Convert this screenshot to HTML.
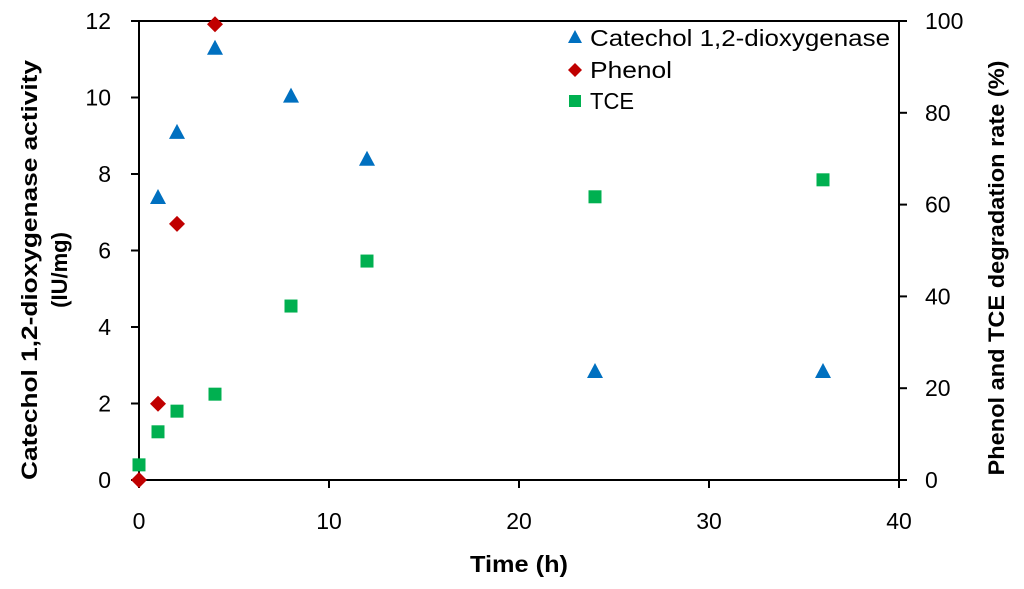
<!DOCTYPE html>
<html><head><meta charset="utf-8"><style>
body{margin:0;background:#fff;}
svg{display:block;font-family:"Liberation Sans",Calibri,sans-serif;}
</style></head><body>
<svg id="chart" width="1024" height="589" viewBox="0 0 1024 589" xmlns="http://www.w3.org/2000/svg">
<g id="axes"></g>
<g id="marks"></g>
<text x="519" y="572" text-anchor="middle" font-size="23" font-weight="bold" textLength="98" lengthAdjust="spacingAndGlyphs">Time (h)</text>
<text transform="translate(37,270) rotate(-90)" text-anchor="middle" font-size="22" font-weight="bold"><tspan x="0" dy="0" textLength="420" lengthAdjust="spacingAndGlyphs">Catechol 1,2-dioxygenase activity</tspan><tspan x="0" dy="30">(IU/mg)</tspan></text>
<text transform="translate(1004,268) rotate(-90)" text-anchor="middle" font-size="22" font-weight="bold" textLength="415" lengthAdjust="spacingAndGlyphs">Phenol and TCE degradation rate (%)</text>
<g font-size="23">
 <polygon points="575,30 582,43 568,43" fill="#0070c0"/>
 <text x="590" y="46" textLength="300" lengthAdjust="spacingAndGlyphs">Catechol 1,2-dioxygenase</text>
 <polygon points="575,63 582,70 575,77 568,70" fill="#c00000"/>
 <text x="590" y="78" textLength="82" lengthAdjust="spacingAndGlyphs">Phenol</text>
 <rect x="569" y="95" width="12" height="12" fill="#00b050"/>
 <text x="590" y="109" textLength="44" lengthAdjust="spacingAndGlyphs">TCE</text>
</g>
</svg>
<script>
const catTime=[1,2,4,8,12,24,36];
const catActivity=[7.4,9.1,11.3,10.05,8.4,2.85,2.85];
const phenolTime=[0,1,2,4];
const phenolRate=[0,16.6,55.8,99.3];
const tceTime=[0,1,2,4,8,12,24,36];
const tceRate=[3.3,10.5,15,18.7,37.9,47.7,61.7,65.4];
const xTicks=[0,10,20,30,40];
const yLeftTicks=[0,2,4,6,8,10,12];
const yRightTicks=[0,20,40,60,80,100];

const L=139,R=899,T=21,B=480;
const xs=v=>L+(v/40)*(R-L);
const yl=v=>B-(v/12)*(B-T);
const yr=v=>B-(v/100)*(B-T);
const NS="http://www.w3.org/2000/svg";
const axes=document.getElementById('axes'),marks=document.getElementById('marks');
function mk(tag,attrs,parent){const e=document.createElementNS(NS,tag);for(const k in attrs)e.setAttribute(k,attrs[k]);parent.appendChild(e);return e;}

let e;
e=mk('line',{x1:L-8,y1:T,x2:R+8,y2:T,stroke:'#000','stroke-width':2},axes);


e=mk('line',{x1:L,y1:T,x2:L,y2:B,stroke:'#000','stroke-width':2},axes);


e=mk('line',{x1:R,y1:T,x2:R,y2:B,stroke:'#000','stroke-width':2},axes);


e=mk('line',{x1:L,y1:B,x2:R,y2:B,stroke:'#000','stroke-width':2},axes);



xTicks.forEach(v=>{
 e=mk('line',{x1:xs(v),y1:B,x2:xs(v),y2:B+8,stroke:'#000','stroke-width':2},axes);
 
 
 e=mk('text',{x:xs(v),y:B+49,'text-anchor':'middle','font-size':23},axes);
 e.textContent=v;
 
 
});
yLeftTicks.forEach(v=>{
 e=mk('line',{x1:L-8,y1:yl(v),x2:L,y2:yl(v),stroke:'#000','stroke-width':2},axes);
 
 
 e=mk('text',{x:L-28,y:yl(v)+8,'text-anchor':'end','font-size':23},axes);
 e.textContent=v;
 
 
});
yRightTicks.forEach(v=>{
 e=mk('line',{x1:R,y1:yr(v),x2:R+8,y2:yr(v),stroke:'#000','stroke-width':2},axes);
 
 
 e=mk('text',{x:R+26,y:yr(v)+8,'text-anchor':'start','font-size':23},axes);
 e.textContent=v;
 
 
});

tceTime.forEach((t,i)=>{
 const x=xs(t),y=yr(tceRate[i]);
 e=mk('rect',{x:x-6.5,y:y-6.5,width:13,height:13,fill:'#00b050'},marks);
 
 
});
phenolTime.forEach((t,i)=>{
 const x=xs(t),y=yr(phenolRate[i]);
 e=mk('polygon',{points:`${x},${y-8} ${x+8},${y} ${x},${y+8} ${x-8},${y}`,fill:'#c00000'},marks);
 
 
});
catTime.forEach((t,i)=>{
 const x=xs(t),y=yl(catActivity[i]);
 e=mk('polygon',{points:`${x},${y-8} ${x+8},${y+7} ${x-8},${y+7}`,fill:'#0070c0'},marks);
 
 
});
</script>
</body></html>
